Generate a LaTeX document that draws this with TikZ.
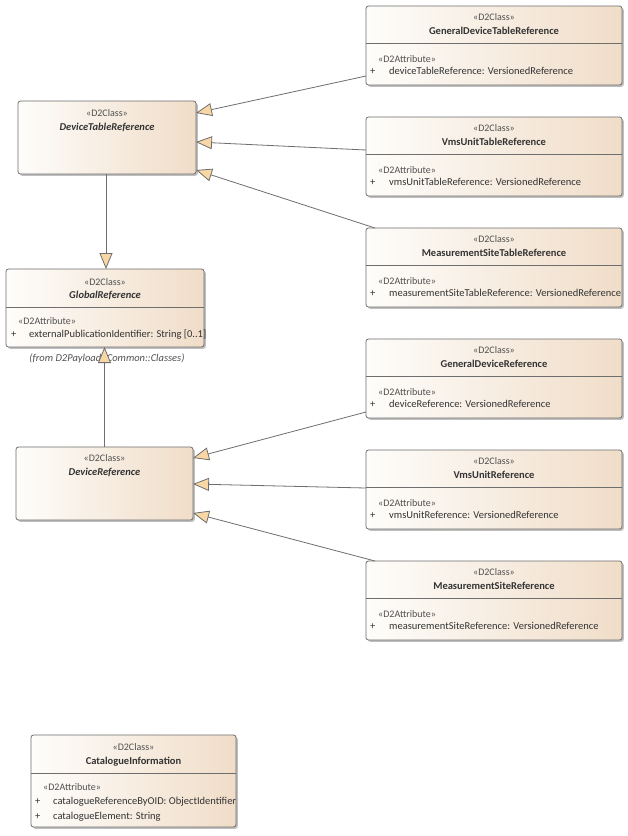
\documentclass[tikz,border=0pt]{standalone}
\usepackage{fontspec}
\setmainfont{Carlito}
\usetikzlibrary{arrows.meta,shadows,calc}

\definecolor{boxL}{HTML}{FEFDFB}
\definecolor{boxR}{HTML}{F0DDC8}
\definecolor{edge}{HTML}{6E6E6E}
\definecolor{tipfill}{HTML}{F8D7A4}
\definecolor{txt}{HTML}{333333}
\definecolor{stxt}{HTML}{505050}

\tikzset{
  classbox/.style={draw=edge, line width=0.8pt, rounded corners=2.5pt,
    left color=boxL, right color=boxR, outer sep=0pt, inner sep=0pt,
    drop shadow={shadow xshift=1.8pt, shadow yshift=-1.8pt, fill=black, opacity=0.25}},
  basetxt/.style={inner sep=0pt, text height=7pt, text depth=2pt, font=\fontsize{10.5}{12}\selectfont},
  stereo/.style={basetxt, text=stxt, font=\fontsize{10}{12}\selectfont},
  cname/.style={basetxt, text=txt, font=\fontsize{10.5}{12}\selectfont\bfseries},
  aname/.style={basetxt, text=txt, font=\fontsize{10.5}{12}\selectfont\bfseries\itshape},
  attr/.style={basetxt, text=txt, anchor=west},
  divider/.style={draw=edge, line width=0.8pt},
  gen/.style={draw=edge, line width=0.8pt, -{Triangle[length=16pt,width=13pt,fill=tipfill]}},
}

\newcommand\rclass[4]{%
  \node[classbox, minimum width=256pt, minimum height=79pt, anchor=north west] (#1) at (366,#2) {};
  \node[stereo] (#1-st) at ($(#1.north)+(0,12)$) {«D2Class»};
  \node[cname] (#1-nm) at ($(#1.north)+(0,26)$) {#3};
  \draw[divider] ($(#1.north west)+(0,37.5)$) -- ($(#1.north east)+(0,37.5)$);
  \node[stereo, anchor=west] (#1-as) at ($(#1.north west)+(12,54)$) {«D2Attribute»};
  \node[attr] (#1-pl) at ($(#1.north west)+(4,66)$) {+};
  \node[attr] (#1-at) at ($(#1.north west)+(23,66)$) {#4};
}

\begin{document}
\begin{tikzpicture}[x=1pt, y=-1pt]
\useasboundingbox[fill=white] (0,0) rectangle (628,836);

% right column
\rclass{gdtr}{6}{GeneralDeviceTableReference}{deviceTableReference: VersionedReference}
\rclass{vutr}{117}{VmsUnitTableReference}{vmsUnitTableReference: VersionedReference}
\rclass{mstr}{228}{MeasurementSiteTableReference}{measurementSiteTableReference: VersionedReference}
\rclass{gdr}{339}{GeneralDeviceReference}{deviceReference: VersionedReference}
\rclass{vur}{450}{VmsUnitReference}{vmsUnitReference: VersionedReference}
\rclass{msr}{561}{MeasurementSiteReference}{measurementSiteReference: VersionedReference}

% DeviceTableReference
\node[classbox, minimum width=178pt, minimum height=73pt, anchor=north west] (dtr) at (18,101) {};
\node[stereo] (dtr-st) at ($(dtr.north)+(0,13)$) {«D2Class»};
\node[aname] (dtr-nm) at ($(dtr.north)+(0,27)$) {DeviceTableReference};

% GlobalReference
\node[classbox, minimum width=198pt, minimum height=78pt, anchor=north west] (gr) at (6,269) {};
\node[stereo] (gr-st) at ($(gr.north)+(0,14)$) {«D2Class»};
\node[aname] (gr-nm) at ($(gr.north)+(0,27)$) {GlobalReference};
\draw[divider] ($(gr.north west)+(0,38)$) -- ($(gr.north east)+(0,38)$);
\node[stereo, anchor=west] (gr-as) at ($(gr.north west)+(12,53)$) {«D2Attribute»};
\node[attr] (gr-pl) at ($(gr.north west)+(5,66)$) {+};
\node[attr] (gr-at) at ($(gr.north west)+(23,66)$) {externalPublicationIdentifier: String [0..1]};
\node[basetxt, text=stxt, font=\fontsize{10.5}{12}\selectfont\itshape] (gr-from) at ($(gr.south)+(2,12)$) {(from D2Payload::Common::Classes)};

% DeviceReference
\node[classbox, minimum width=177pt, minimum height=73pt, anchor=north west] (dr) at (16,447) {};
\node[stereo] (dr-st) at ($(dr.north)+(0,12)$) {«D2Class»};
\node[aname] (dr-nm) at ($(dr.north)+(0,26)$) {DeviceReference};

% CatalogueInformation
\node[classbox, minimum width=205pt, minimum height=92pt, anchor=north west] (ci) at (31,735) {};
\node[stereo] (ci-st) at ($(ci.north)+(0,13)$) {«D2Class»};
\node[cname] (ci-nm) at ($(ci.north)+(0,27)$) {CatalogueInformation};
\draw[divider] ($(ci.north west)+(0,38)$) -- ($(ci.north east)+(0,38)$);
\node[stereo, anchor=west] (ci-as) at ($(ci.north west)+(12,53)$) {«D2Attribute»};
\node[attr] (ci-pl1) at ($(ci.north west)+(4,67)$) {+};
\node[attr] (ci-at1) at ($(ci.north west)+(22,67)$) {catalogueReferenceByOID: ObjectIdentifier};
\node[attr] (ci-pl2) at ($(ci.north west)+(4,82)$) {+};
\node[attr] (ci-at2) at ($(ci.north west)+(22,82)$) {catalogueElement: String};

% generalisations
\coordinate (dtrb) at ($(dtr.south)+(-1,0)$);
\draw[gen] ($(gdtr.north west)+(0,70)$) -- ($(dtr.north east)+(0,12)$);
\draw[gen] ($(vutr.north west)+(0,33)$) -- ($(dtr.north east)+(0,41)$);
\draw[gen] ($(mstr.north west)+(9,0)$) -- ($(dtr.north east)+(0,69)$);
\draw[gen] (dtrb) -- (dtrb |- gr.north);
\draw[gen] (dr.north) -- (dr.north |- gr.south);
\draw[gen] ($(gdr.north west)+(0,73)$) -- ($(dr.north east)+(0,11)$);
\draw[gen] ($(vur.north west)+(0,38)$) -- ($(dr.north east)+(0,37)$);
\draw[gen] ($(msr.north west)+(9,0)$) -- ($(dr.north east)+(0,66)$);
\end{tikzpicture}
\end{document}
